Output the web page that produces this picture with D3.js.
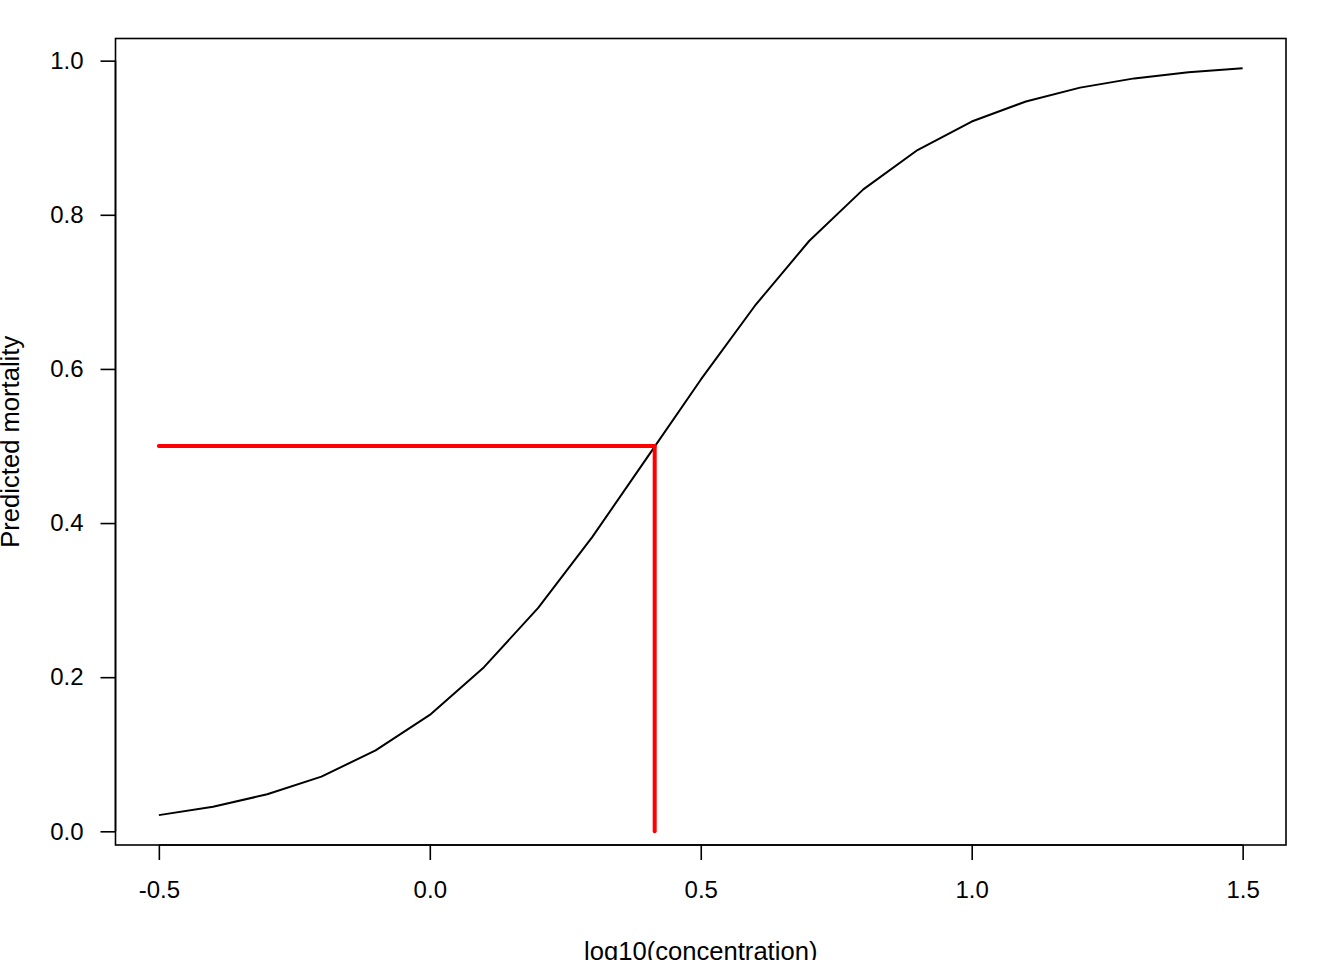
<!DOCTYPE html>
<html>
<head>
<meta charset="utf-8">
<script src="https://cdn.jsdelivr.net/npm/d3@7"></script>
<style>
  html, body { margin: 0; padding: 0; background: #fff; }
  svg { display: block; }
  text { font-family: "Liberation Sans", Arial, sans-serif; fill: #000; }
</style>
</head>
<body>
<svg id="chart" width="1344" height="960"></svg>
<script>
// Data
const logConc = [-0.5, -0.4, -0.3, -0.2, -0.1, 0.0, 0.1, 0.2, 0.3, 0.4, 0.5,
                 0.6, 0.7, 0.8, 0.9, 1.0, 1.1, 1.2, 1.3, 1.4, 1.5];
const mortality = [0.021, 0.032, 0.048, 0.071, 0.105, 0.151, 0.213, 0.290, 0.382, 0.484, 0.586,
                   0.682, 0.766, 0.833, 0.884, 0.921, 0.947, 0.965, 0.977, 0.985, 0.990];
const ld50 = 0.415;
const ld50Level = 0.5;
const xTicks = [-0.5, 0.0, 0.5, 1.0, 1.5];
const yTicks = [0.0, 0.2, 0.4, 0.6, 0.8, 1.0];
const xTitle = "log10(concentration)";
const yTitle = "Predicted mortality";

const svg = d3.select("#chart");
const box = { left: 115.5, right: 1286, top: 38.5, bottom: 845 };

// R-style 4% range extension
const xMin = d3.min(logConc), xMax = d3.max(logConc);
const xPad = (xMax - xMin) * 0.04;
const yMin = d3.min(mortality), yMax = d3.max(mortality);
const yPad = (yMax - yMin) * 0.04;

const x = d3.scaleLinear().domain([xMin - xPad, xMax + xPad]).range([box.left, box.right]);
const y = d3.scaleLinear().domain([yMin - yPad, yMax + yPad]).range([box.bottom, box.top]);

const fontSize = 24;
const titleSize = 25.6;

// Curve
const line = d3.line().x((d, i) => x(logConc[i])).y(d => y(d));
svg.append("path")
  .datum(mortality)
  .attr("d", line)
  .attr("fill", "none")
  .attr("stroke", "#000")
  .attr("stroke-width", 2)
  .attr("stroke-linejoin", "round");

// Red LD50 segments
svg.append("line")
  .attr("x1", x(xMin)).attr("y1", y(ld50Level))
  .attr("x2", x(ld50)).attr("y2", y(ld50Level))
  .attr("stroke", "#ff0000").attr("stroke-width", 4).attr("stroke-linecap", "round");
svg.append("line")
  .attr("x1", x(ld50)).attr("y1", y(ld50Level))
  .attr("x2", x(ld50)).attr("y2", y(0))
  .attr("stroke", "#ff0000").attr("stroke-width", 4).attr("stroke-linecap", "round");

// Box
svg.append("rect")
  .attr("x", box.left).attr("y", box.top)
  .attr("width", box.right - box.left).attr("height", box.bottom - box.top)
  .attr("fill", "none").attr("stroke", "#000").attr("stroke-width", 1.6);

// X axis (R style)
const xAxis = d3.axisBottom(x).tickValues(xTicks).tickFormat(d3.format(".1f")).tickSize(15).tickPadding(21);
const gx = svg.append("g").attr("transform", `translate(0,${box.bottom})`).call(xAxis);
gx.select(".domain").attr("d", `M${x(xTicks[0])},0H${x(xTicks[xTicks.length - 1])}`)
  .attr("stroke", "#000").attr("stroke-width", 1.6);
gx.selectAll(".tick line").attr("stroke", "#000").attr("stroke-width", 1.6);
gx.selectAll(".tick text").attr("font-size", fontSize).attr("font-family", "Liberation Sans, Arial, sans-serif")
  .attr("dy", "0.71em").text(d => d3.format(".1f")(d).replace("−", "-"));

// Y axis (R style, las=1)
const yAxis = d3.axisLeft(y).tickValues(yTicks).tickFormat(d3.format(".1f")).tickSize(15).tickPadding(17);
const gy = svg.append("g").attr("transform", `translate(${box.left},0)`).call(yAxis);
gy.select(".domain").attr("d", `M0,${y(yTicks[0])}V${y(yTicks[yTicks.length - 1])}`)
  .attr("stroke", "#000").attr("stroke-width", 1.6);
gy.selectAll(".tick line").attr("stroke", "#000").attr("stroke-width", 1.6);
gy.selectAll(".tick text").attr("font-size", fontSize).attr("font-family", "Liberation Sans, Arial, sans-serif");

// Axis titles
svg.append("text")
  .attr("x", (box.left + box.right) / 2).attr("y", 960)
  .attr("text-anchor", "middle").attr("font-size", titleSize)
  .text(xTitle);
svg.append("text")
  .attr("transform", `translate(19,${(box.top + box.bottom) / 2}) rotate(-90)`)
  .attr("text-anchor", "middle").attr("font-size", titleSize)
  .text(yTitle);
</script>
</body>
</html>
